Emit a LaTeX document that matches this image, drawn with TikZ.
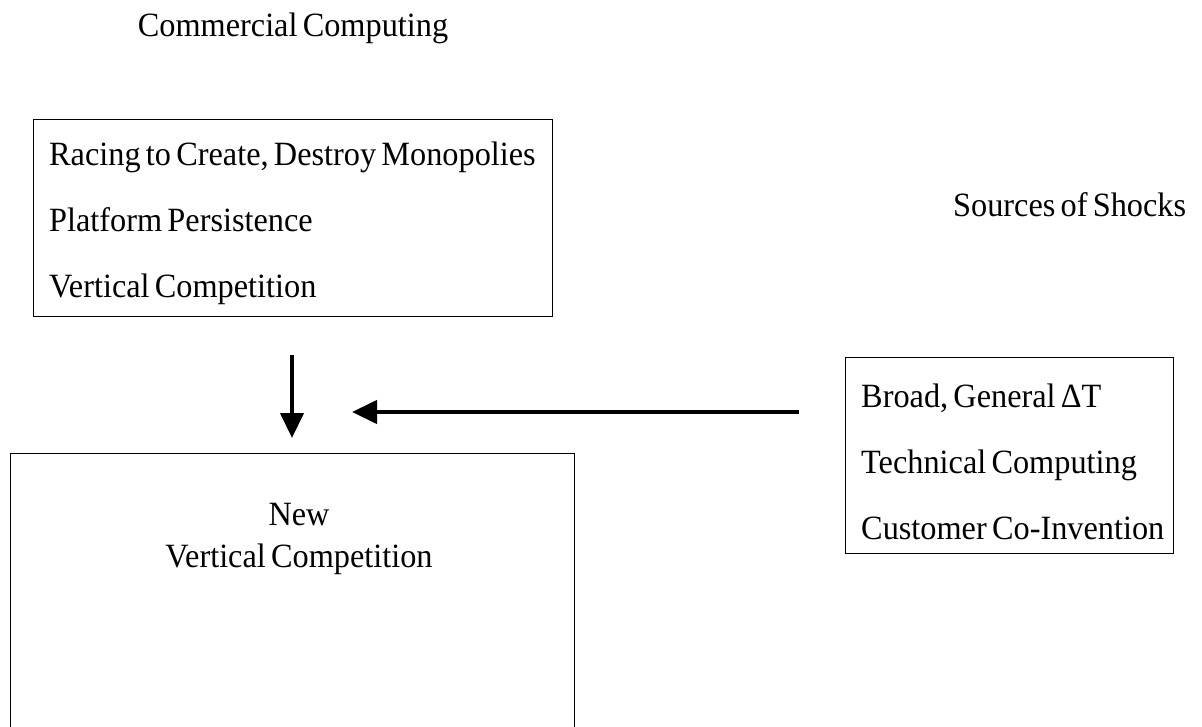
\documentclass[tikz,border=0pt]{standalone}
\usepackage{fontspec}
\setmainfont{Liberation Serif}[FakeStretch=0.95, WordSpace=0.65]
\usetikzlibrary{arrows.meta}

\tikzset{
  frame/.style={draw=black, line width=1.4pt, inner sep=0pt, anchor=north west},
  item/.style={font=\fontsize{34}{40}\selectfont, inner sep=0pt, anchor=base west},
  label/.style={font=\fontsize{34}{40}\selectfont, inner sep=0pt, anchor=base},
  flow/.style={line width=4.2pt, -{Triangle[length=25pt,width=23pt]}}
}

\begin{document}
\begin{tikzpicture}[x=1pt, y=-1pt]
  \useasboundingbox (0,0) rectangle (1202,726);
  \clip (0,0) rectangle (1202,726);

  % headings
  \node[label] (head) at (293,36) {Commercial Computing};
  \node[item] (shocks) at (953,216) {Sources of Shocks};

  % commercial computing box
  \node[frame, minimum width=519pt, minimum height=197pt] (cbox) at (33,119) {};
  \node[item] (c1) at (49,165) {Racing to Create, Destroy Monopolies};
  \node[item] (c2) at (49,231) {Platform Persistence};
  \node[item] (c3) at (49,297) {Vertical Competition};

  % sources of shocks box
  \node[frame, minimum width=328pt, minimum height=196pt] (sbox) at (845,357) {};
  \node[item] (s1) at (861,407) {Broad, General ΔT};
  \node[item] (s2) at (861,473) {Technical Computing};
  \node[item] (s3) at (861,539) {Customer Co-Invention};

  % outcome box, running past the lower edge
  \node[frame, minimum width=564pt, minimum height=320pt] (nbox) at (10,453) {};
  \node[label] (n1) at (299,525) {New};
  \node[label] (n2) at (299,567) {Vertical Competition};

  % arrows into the outcome box
  \coordinate (dtop) at (292,355);
  \coordinate (dtip) at (292,438);
  \coordinate (ltail) at (799,412);
  \coordinate (ltip) at (352,412);
  \draw[flow] (dtop) -- (dtip);
  \draw[flow] (ltail) -- (ltip);
\end{tikzpicture}
\end{document}
